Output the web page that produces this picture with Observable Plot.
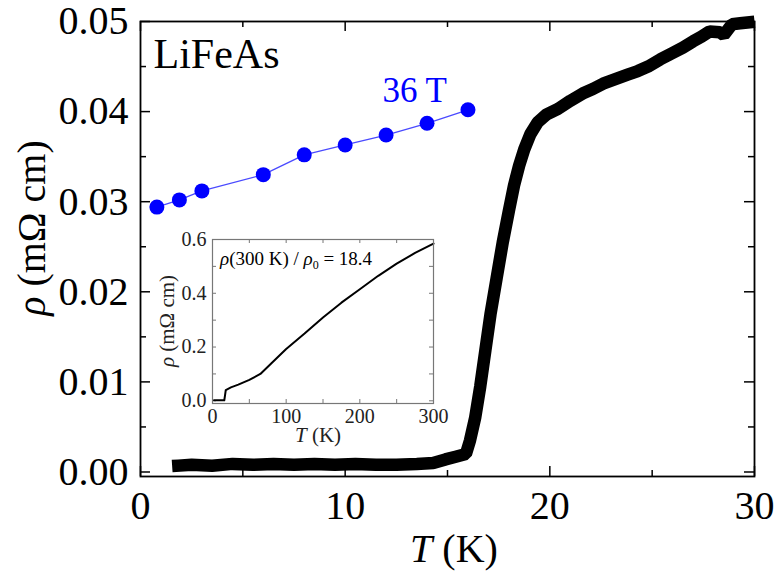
<!DOCTYPE html>
<html><head><meta charset="utf-8">
<script src="https://cdn.jsdelivr.net/npm/d3@7"></script>
<script src="https://cdn.jsdelivr.net/npm/@observablehq/plot@0.6"></script>
<style>
body{margin:0;background:#fff;}
#wrap{position:relative;width:778px;height:578px;overflow:hidden;}
#main{position:absolute;left:0;top:0;width:778px;}
#inset{position:absolute;left:150px;top:220px;width:300px;}
svg text, svg tspan{font-family:'Liberation Serif','Times New Roman',Tinos,'DejaVu Serif',serif !important;}
</style></head><body><div id="wrap"><div id="main"></div><div id="inset"></div></div>
<script>
const FONT = "'Liberation Serif', 'Times New Roman', Tinos, 'DejaVu Serif', serif";

// ---- main panel: zero-field resistivity (black)
const mainT = [1.85, 2.5, 3.5, 4.5, 5.5, 6.5, 7.5, 8.5, 9.5, 10.5, 11.5, 12.5, 13.5, 14.3, 14.9, 15.4, 15.9, 16.1, 16.35, 16.6, 16.85, 17.1, 17.4, 17.7, 18.0, 18.25, 18.5, 18.75, 19.05, 19.4, 19.85, 20.4, 21.0, 21.6, 22.1, 22.6, 23.2, 23.8, 24.3, 24.8, 25.4, 25.9, 26.5, 27.0, 27.4, 27.8, 28.3, 28.5, 28.9, 29.3, 29.7];
const mainRho = [0.0007, 0.0008, 0.0007, 0.0009, 0.0008, 0.0009, 0.0008, 0.0009, 0.0008, 0.0009, 0.0008, 0.0008, 0.0009, 0.0010, 0.0014, 0.0017, 0.0020, 0.0035, 0.0060, 0.0095, 0.0135, 0.0175, 0.0215, 0.0255, 0.0290, 0.0318, 0.0340, 0.0358, 0.0375, 0.0388, 0.0397, 0.0403, 0.0412, 0.0420, 0.0425, 0.0431, 0.0436, 0.0441, 0.0445, 0.0450, 0.0458, 0.0464, 0.0471, 0.0478, 0.0483, 0.0489, 0.0488, 0.0485, 0.0497, 0.0498, 0.0499];

// ---- main panel: 36 T data (blue)
const fieldT = [0.8, 1.9, 3.0, 6.0, 8.0, 10.0, 12.0, 14.0, 16.0];
const fieldRho = [0.0294, 0.0302, 0.0312, 0.0330, 0.0352, 0.0363, 0.0374, 0.0387, 0.0402];
const fieldLabel = "36 T";
const sampleLabel = "LiFeAs";

// ---- inset: resistivity up to 300 K
const insetT = [2, 10, 16, 17, 18, 25, 35, 50, 65, 80, 100, 125, 150, 175, 200, 225, 250, 275, 300];
const insetRho = [0.002, 0.002, 0.002, 0.02, 0.04, 0.05, 0.06, 0.078, 0.10, 0.14, 0.193, 0.25, 0.31, 0.365, 0.415, 0.465, 0.51, 0.55, 0.585];

// ---- ticks
const xMajor = [0, 10, 20, 30];
const xMinor = [5, 15, 25];
const yMajor = [0, 0.01, 0.02, 0.03, 0.04, 0.05];
const yMinor = [0.005, 0.015, 0.025, 0.035, 0.045];
const insetXTicks = [0, 100, 200, 300];
const insetXAll = [0, 50, 100, 150, 200, 250, 300];
const insetYTicks = [0, 0.2, 0.4, 0.6];
const insetYAll = [0, 0.1, 0.2, 0.3, 0.4, 0.5, 0.6];

const mainData = mainT.map((t, i) => ({T: t, rho: mainRho[i]}));
const fieldData = fieldT.map((t, i) => ({T: t, rho: fieldRho[i]}));
const insetData = insetT.map((t, i) => ({T: t, rho: insetRho[i]}));

function inwardTicks(xs, ys, innerW, innerH, stroke, sw) {
  const marks = [];
  for (const [vals, len] of xs) {
    marks.push(Plot.tickX(vals, {x: d => d, insetTop: innerH - len, stroke, strokeWidth: sw}));
    marks.push(Plot.tickX(vals, {x: d => d, insetBottom: innerH - len, stroke, strokeWidth: sw}));
  }
  for (const [vals, len] of ys) {
    marks.push(Plot.tickY(vals, {y: d => d, insetRight: innerW - len, stroke, strokeWidth: sw}));
    marks.push(Plot.tickY(vals, {y: d => d, insetLeft: innerW - len, stroke, strokeWidth: sw}));
  }
  return marks;
}

// ---- main plot
const W = 778, H = 578, mL = 140, mR = 24, mT = 21, mB = 102;
const iW = W - mL - mR, iH = H - mT - mB;
const main = Plot.plot({
  width: W, height: H,
  marginLeft: mL, marginRight: mR, marginTop: mT, marginBottom: mB,
  style: {fontFamily: FONT, fontSize: "40px", color: "black", background: "white", overflow: "visible"},
  x: {domain: [0, 30], ticks: xMajor, tickSize: 0, tickPadding: 14, label: null, tickFormat: d3.format("d")},
  y: {domain: [-0.0005, 0.05], ticks: yMajor, tickSize: 0, tickPadding: 12, label: null, tickFormat: d3.format(".2f")},
  marks: [
    ...inwardTicks([[xMajor, 10], [xMinor, 6]], [[yMajor, 10], [yMinor, 6]], iW, iH, "black", 1.5),
    Plot.line(mainData, {x: "T", y: "rho", stroke: "black", strokeWidth: 12.5, strokeLinecap: "square", strokeLinejoin: "miter"}),
    Plot.line(fieldData, {x: "T", y: "rho", stroke: "#4a4aff", strokeWidth: 1.3}),
    Plot.dot(fieldData, {x: "T", y: "rho", r: 7.5, fill: "#0000ff", stroke: "none"}),
    Plot.text([fieldData[fieldData.length - 1]], {x: "T", y: "rho", text: () => fieldLabel, fill: "#0000ff", fontSize: 35, textAnchor: "end", dx: -21, dy: -19}),
    Plot.text([sampleLabel], {frameAnchor: "top-left", text: d => d, fontSize: 42, textAnchor: "start", lineAnchor: "top", dx: 13, dy: 17}),
    Plot.frame({stroke: "black", strokeWidth: 1.8})
  ]
});
document.getElementById("main").appendChild(main);

const ms = d3.select(main);
const xl = ms.append("text").attr("x", 454).attr("y", 562).attr("text-anchor", "middle")
  .attr("font-size", 40).attr("fill", "black");
xl.append("tspan").attr("font-style", "italic").text("T");
xl.append("tspan").text(" (K)");
const yl = ms.append("text").attr("transform", "translate(45,228) rotate(-90)").attr("text-anchor", "middle")
  .attr("font-size", 40).attr("fill", "black");
yl.append("tspan").attr("font-style", "italic").text("ρ");
yl.append("tspan").text(" (mΩ cm)");

// ---- inset plot
const IW = 300, IH = 240, imL = 62, imR = 17, imT = 19, imB = 57;
const iiW = IW - imL - imR, iiH = IH - imT - imB;
const inset = Plot.plot({
  width: IW, height: IH,
  marginLeft: imL, marginRight: imR, marginTop: imT, marginBottom: imB,
  style: {fontFamily: FONT, fontSize: "20px", color: "#222", background: "transparent", overflow: "visible"},
  x: {domain: [0, 300], ticks: insetXTicks, tickSize: 0, tickPadding: 5, label: null, tickFormat: d3.format("d")},
  y: {domain: [-0.01, 0.6], ticks: insetYTicks, tickSize: 0, tickPadding: 6, label: null, tickFormat: d3.format(".1f")},
  marks: [
    ...inwardTicks([[insetXAll, 4]], [[insetYAll, 4]], iiW, iiH, "#777", 1),
    Plot.line(insetData, {x: "T", y: "rho", stroke: "black", strokeWidth: 2}),
    Plot.frame({stroke: "#777", strokeWidth: 1.2})
  ]
});
document.getElementById("inset").appendChild(inset);

const is = d3.select(inset);
const note = is.append("text").attr("x", 70).attr("y", 45).attr("text-anchor", "start").attr("font-size", 19).attr("fill", "black");
note.append("tspan").attr("font-style", "italic").text("ρ");
note.append("tspan").text("(300 K) / ");
note.append("tspan").attr("font-style", "italic").text("ρ");
note.append("tspan").attr("font-size", 12).attr("dy", 4).text("0");
note.append("tspan").attr("dy", -4).text(" = 18.4");
const ixl = is.append("text").attr("x", 168).attr("y", 222).attr("text-anchor", "middle").attr("font-size", 21).attr("fill", "#222");
ixl.append("tspan").attr("font-style", "italic").text("T");
ixl.append("tspan").text(" (K)");
const iyl = is.append("text").attr("transform", "translate(24,101) rotate(-90)").attr("text-anchor", "middle").attr("font-size", 21).attr("fill", "#222");
iyl.append("tspan").attr("font-style", "italic").text("ρ");
iyl.append("tspan").text(" (mΩ cm)");
</script></body></html>
